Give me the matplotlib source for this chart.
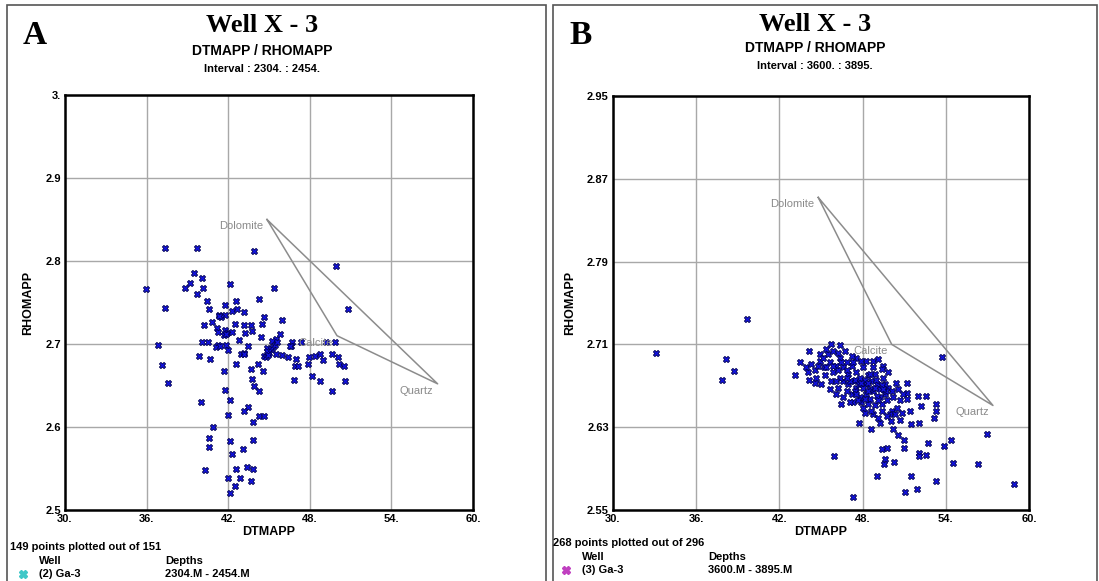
import matplotlib.pyplot as plt
from matplotlib.patches import Rectangle
from matplotlib.lines import Line2D

# --- Données ---
x_ticks = [30, 36, 42, 48, 54, 60]
x_labels = ["30.", "36.", "42.", "48.", "54.", "60."]

a_yticks = [2.5, 2.6, 2.7, 2.8, 2.9, 3.0]
a_ylabels = ["2.5", "2.6", "2.7", "2.8", "2.9", "3."]
b_yticks = [2.55, 2.63, 2.71, 2.79, 2.87, 2.95]
b_ylabels = ["2.55", "2.63", "2.71", "2.79", "2.87", "2.95"]

minerals = ["Dolomite", "Calcite", "Quartz"]
a_min_dt = [44.85, 50.0, 57.4]
a_min_rho = [2.85, 2.71, 2.652]
b_min_dt = [44.8, 50.1, 57.4]
b_min_rho = [2.852, 2.71, 2.651]

# Puits A : intervalle 2304 - 2454 m
a_dt = [37.37, 39.74, 43.91, 49.91, 35.95, 39.52, 40.06, 39.20, 38.80, 40.14,
        39.74, 42.10, 45.35, 37.37, 40.47, 42.60, 44.24, 40.57, 41.77, 42.28,
        42.62, 43.17, 41.30, 41.77, 41.49, 44.60, 45.97, 40.21, 40.79, 42.47,
        43.14, 43.71, 44.50, 41.15, 41.77, 41.28, 41.92, 43.24, 43.77, 42.25,
        41.70, 50.81, 42.82, 44.39, 45.50, 45.84, 45.25, 40.04, 40.53, 41.28,
        41.08, 41.85, 42.02, 42.94, 43.14, 43.44, 44.86, 45.01, 44.63, 45.50,
        45.99, 46.37, 46.66, 46.61, 47.36, 49.17, 49.86, 36.82, 39.87, 40.68,
        42.57, 44.16, 46.99, 46.91, 47.16, 47.91, 47.87, 48.40, 48.77, 48.97,
        49.61, 50.04, 50.15, 50.51, 37.16, 37.61, 41.70, 43.64, 44.56, 43.77,
        43.88, 44.28, 41.73, 46.84, 48.17, 48.74, 50.58, 49.61, 39.97, 42.13,
        43.47, 43.14, 41.98, 44.26, 44.63, 43.84, 40.87, 40.59, 42.13, 43.86,
        40.59, 42.30, 43.07, 40.29, 42.57, 43.39, 43.79, 42.02, 42.87, 43.64,
        42.50, 42.13, 44.88, 44.75, 45.12, 45.30, 45.42, 45.62, 44.95, 41.83,
        41.41, 43.17, 41.34, 46.54]
a_rho = [2.816, 2.816, 2.812, 2.794, 2.766, 2.785, 2.780, 2.773, 2.768, 2.768,
         2.760, 2.772, 2.768, 2.743, 2.752, 2.752, 2.754, 2.742, 2.747, 2.740,
         2.742, 2.738, 2.735, 2.735, 2.732, 2.733, 2.729, 2.723, 2.726, 2.724,
         2.723, 2.723, 2.724, 2.719, 2.717, 2.714, 2.713, 2.713, 2.716, 2.715,
         2.711, 2.742, 2.705, 2.708, 2.706, 2.712, 2.704, 2.702, 2.702, 2.699,
         2.696, 2.699, 2.693, 2.688, 2.689, 2.697, 2.695, 2.689, 2.686, 2.688,
         2.687, 2.684, 2.702, 2.697, 2.702, 2.702, 2.702, 2.699, 2.686, 2.682,
         2.676, 2.676, 2.682, 2.674, 2.674, 2.684, 2.676, 2.686, 2.688, 2.681,
         2.688, 2.684, 2.676, 2.674, 2.675, 2.653, 2.668, 2.670, 2.667, 2.658,
         2.649, 2.643, 2.645, 2.657, 2.661, 2.656, 2.656, 2.643, 2.630, 2.632,
         2.624, 2.619, 2.615, 2.613, 2.613, 2.606, 2.600, 2.587, 2.583, 2.584,
         2.576, 2.568, 2.573, 2.548, 2.549, 2.552, 2.550, 2.538, 2.538, 2.535,
         2.529, 2.520, 2.692, 2.684, 2.694, 2.696, 2.699, 2.702, 2.687, 2.712,
         2.698, 2.688, 2.734, 2.697]

# Puits B : intervalle 3600 - 3895 m
b_dt = [33.10, 39.65, 38.12, 38.75, 37.88, 43.16, 43.52, 44.17, 45.69, 46.34,
        53.73, 47.76, 48.60, 45.92, 49.01, 47.34, 49.43, 49.74, 49.61, 49.54,
        50.27, 51.00, 51.00, 51.06, 51.92, 51.52, 52.06, 52.06, 52.57, 52.71,
        53.32, 53.88, 54.34, 54.53, 56.29, 56.95, 58.94, 50.54, 50.17,
        50.39, 51.18, 51.18, 51.98, 52.57, 52.20, 53.30, 53.32, 53.13, 52.06,
        51.48, 50.70, 50.02, 49.25, 48.77, 48.16, 47.92, 49.37, 50.10, 50.83,
        51.43,
        43.93, 44.29, 44.54, 44.90, 45.19, 45.50, 45.62, 45.86, 46.11, 46.34,
        46.59, 46.84, 46.95, 47.20, 47.36, 47.55, 47.80, 48.05, 48.28, 48.41,
        48.64, 48.77, 49.01, 49.25, 49.45, 49.62, 49.85, 49.25, 48.28, 47.55,
        47.20, 46.59, 46.23, 46.84, 47.80, 48.53, 48.89, 49.74, 50.22, 50.46,
        50.71, 49.98, 49.37, 48.64, 48.05, 47.32, 46.59, 46.34, 45.74, 45.26,
        44.65, 44.04, 45.38, 45.86, 46.23, 47.55, 48.28, 48.77, 49.14, 49.49,
        49.85, 49.37, 48.89, 47.92, 47.20, 46.71, 44.90, 44.17, 44.54, 45.02,
        45.62, 46.11, 46.95, 47.44, 48.05, 48.53, 49.01, 49.62, 50.10, 50.58,
        50.94, 51.19, 50.35, 49.74, 49.14, 48.41, 47.68, 47.07, 46.47, 48.16,
        48.77, 46.84, 46.23, 47.32, 47.76, 48.41, 48.97, 49.37, 49.68, 48.41,
        47.07, 46.11, 45.38, 44.77, 47.44, 47.92, 48.89, 49.14, 48.16, 47.55,
        48.53, 49.49, 46.84, 45.86, 46.47, 45.13]
b_rho = [2.702, 2.735, 2.696, 2.684, 2.676, 2.680, 2.693, 2.704, 2.710, 2.709,
         2.698, 2.634, 2.628, 2.602, 2.583, 2.563, 2.609, 2.610, 2.599, 2.594,
         2.596, 2.610, 2.618, 2.567, 2.570, 2.583, 2.605, 2.602, 2.603, 2.615,
         2.578, 2.612, 2.618, 2.595, 2.594, 2.623, 2.575, 2.622, 2.628,
         2.673, 2.673, 2.663, 2.660, 2.660, 2.650, 2.652, 2.646, 2.639, 2.634,
         2.633, 2.637, 2.636, 2.634, 2.643, 2.644, 2.654, 2.652, 2.646, 2.644,
         2.646,
         2.688, 2.691, 2.685, 2.694, 2.688, 2.701, 2.693, 2.683, 2.689, 2.697,
         2.688, 2.693, 2.681, 2.689, 2.675, 2.683, 2.678, 2.688, 2.672, 2.680,
         2.675, 2.665, 2.672, 2.667, 2.678, 2.662, 2.668, 2.659, 2.662, 2.668,
         2.662, 2.675, 2.668, 2.665, 2.659, 2.657, 2.651, 2.656, 2.659, 2.649,
         2.656, 2.643, 2.646, 2.646, 2.649, 2.654, 2.659, 2.678, 2.675, 2.680,
         2.678, 2.683, 2.706, 2.704, 2.702, 2.697, 2.694, 2.694, 2.696, 2.689,
         2.683, 2.686, 2.681, 2.694, 2.699, 2.704, 2.701, 2.676, 2.673, 2.672,
         2.667, 2.662, 2.672, 2.676, 2.668, 2.667, 2.660, 2.672, 2.665, 2.667,
         2.662, 2.657, 2.643, 2.641, 2.639, 2.652, 2.656, 2.654, 2.652, 2.676,
         2.688, 2.685, 2.685, 2.693, 2.672, 2.673, 2.676, 2.671, 2.665, 2.665,
         2.675, 2.675, 2.688, 2.689, 2.665, 2.673, 2.668, 2.656, 2.657, 2.662,
         2.681, 2.667, 2.678, 2.689, 2.693, 2.697]

# --- Mise en page (pixels de l'image 1099 x 581) ---
W, H = 1099, 581
fig = plt.figure(figsize=(W / 100, H / 100), dpi=100)
plt.rcParams['font.family'] = ['Liberation Sans', 'DejaVu Sans']

def px(x, y):
    return x / W, 1 - y / H

def cadre(x0, y0, x1, y1):
    r = Rectangle(px(x0, y1), (x1 - x0) / W, (y1 - y0) / H, transform=fig.transFigure,
                  fill=False, edgecolor='#555555', linewidth=1.2)
    fig.add_artist(r)

def panneau(left, right, top, bottom, dt, rho, yticks, ylabels, min_dt, min_rho):
    x0, y0 = px(left, bottom)
    ax = fig.add_axes([x0, y0, (right - left) / W, (bottom - top) / H])
    ax.set_xlim(x_ticks[0], x_ticks[-1])
    ax.set_ylim(yticks[0], yticks[-1])
    ax.set_xticks(x_ticks)
    ax.set_xticklabels(x_labels, fontsize=8, fontweight='bold')
    ax.set_yticks(yticks)
    ax.set_yticklabels(ylabels, fontsize=8, fontweight='bold')
    ax.tick_params(length=0, pad=3)
    ax.grid(True, color='#a8a8a8', linewidth=1.0)
    for s in ax.spines.values():
        s.set_linewidth(1.8)
        s.set_color('black')
    ax.set_xlabel("DTMAPP", fontsize=9, fontweight='bold', labelpad=1)
    ax.set_ylabel("RHOMAPP", fontsize=9, fontweight='bold', labelpad=8)
    # triangle des minéraux
    ax.plot(min_dt + [min_dt[0]], min_rho + [min_rho[0]], color='#8c8c8c', linewidth=1.1, zorder=2)
    for nom, xv, yv in zip(minerals, min_dt, min_rho):
        ax.annotate(nom, (xv, yv), xytext=(-3, -5), textcoords='offset points',
                    ha='right', va='center', fontsize=8, color='#8a8a8a', zorder=4)
    ax.scatter(dt, rho, marker='X', s=20, facecolor='#1414e6', edgecolor='#000050',
               linewidth=0.6, zorder=3)
    return ax

cadre(7, 5, 546, 590)
cadre(553, 5, 1097, 590)

panneau(65, 473, 95, 510, a_dt, a_rho, a_yticks, a_ylabels, a_min_dt, a_min_rho)
panneau(613, 1029, 96, 510, b_dt, b_rho, b_yticks, b_ylabels, b_min_dt, b_min_rho)

# --- Titres ---
for cx, lettre, lx, interval, dy in [(262, "A", 35, "Interval : 2304. : 2454.", 0),
                                      (815, "B", 581, "Interval : 3600. : 3895.", -3)]:
    fig.text(*px(lx, 36), lettre, fontsize=24, fontweight='bold', family='Liberation Serif',
             ha='center', va='center')
    fig.text(*px(cx, 26 + dy / 2), "Well X - 3", fontsize=19, fontweight='bold',
             family='Liberation Serif', ha='center', va='center')
    fig.text(*px(cx, 51 + dy), "DTMAPP / RHOMAPP", fontsize=10, fontweight='bold',
             ha='center', va='center')
    fig.text(*px(cx, 69 + dy), interval, fontsize=8, fontweight='bold',
             ha='center', va='center')

# --- Pied de figure ---
pieds = [(10, 0, "149 points plotted out of 151", "(2) Ga-3", "2304.M - 2454.M", '#40c8c8'),
         (553, -4, "268 points plotted out of 296", "(3) Ga-3", "3600.M - 3895.M", '#c040c0')]
for x0, dy, npts, puits, prof, coul in pieds:
    fig.text(*px(x0, 547 + dy), npts, fontsize=8, fontweight='bold', va='center')
    fig.text(*px(x0 + 29, 561 + dy), "Well", fontsize=8, fontweight='bold', va='center')
    fig.text(*px(x0 + 155, 561 + dy), "Depths", fontsize=8, fontweight='bold', va='center')
    fig.add_artist(Line2D([px(x0 + 13, 0)[0]], [px(0, 574 + dy)[1]], marker='X', markersize=6,
                          color=coul, markeredgecolor=coul, transform=fig.transFigure))
    fig.text(*px(x0 + 29, 574 + dy), puits, fontsize=8, fontweight='bold', va='center')
    fig.text(*px(x0 + 155, 574 + dy), prof, fontsize=8, fontweight='bold', va='center')

fig.savefig("out.png", dpi=100)
